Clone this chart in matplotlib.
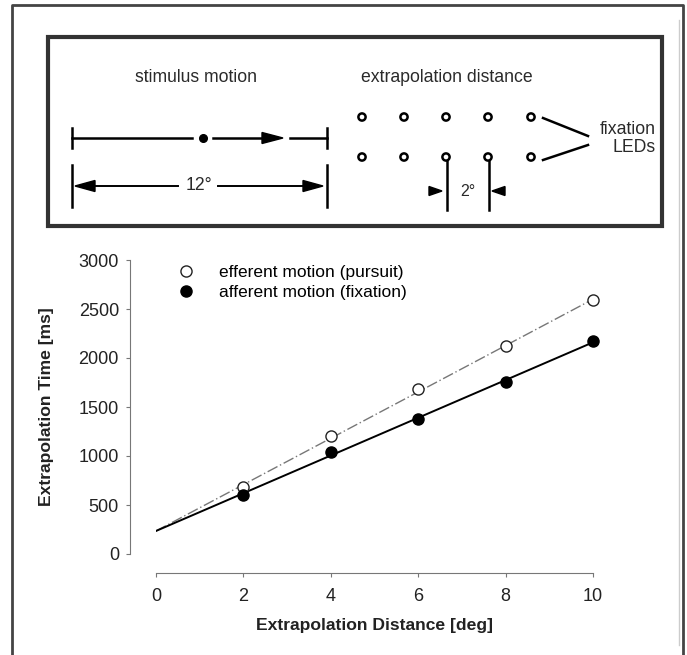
import numpy as np
import matplotlib
matplotlib.use('Agg')
import matplotlib.pyplot as plt
from matplotlib.lines import Line2D
from matplotlib.patches import Rectangle, Polygon, Circle

plt.rcParams['font.family'] = ['Liberation Sans', 'DejaVu Sans']

# data
distance = [2, 4, 6, 8, 10]
pursuit = [680, 1200, 1680, 2120, 2590]
fixation = [605, 1040, 1380, 1760, 2170]
fit_x = [0, 10]
fit_pursuit = [235, 2600]
fit_fixation = [235, 2160]
xticks = [0, 2, 4, 6, 8, 10]
yticks = [0, 500, 1000, 1500, 2000, 2500, 3000]
led_x = [362, 404, 446, 488, 531]
led_y = [117, 157]

W, H = 687, 655
fig = plt.figure(figsize=(W / 100, H / 100), dpi=100)

# overlay axes in pixel coordinates for the sketch on top
ov = fig.add_axes([0, 0, 1, 1])
ov.set_xlim(0, W)
ov.set_ylim(H, 0)
ov.axis('off')

dark = '#2a2a2a'
fs = 12.7
# outer frame
ov.plot([12, 12, 683, 683], [H, 5, 5, H], color='#444444', lw=2)
ov.plot([679, 679], [20, 645], color='#cccccc', lw=1)
# inner box
ov.add_patch(Rectangle((48, 37), 614, 189, fill=False, ec='#333333', lw=3))

ov.text(196, 77, 'stimulus motion', ha='center', va='center', fontsize=fs, color=dark)
ov.text(447, 77, 'extrapolation distance', ha='center', va='center', fontsize=fs, color=dark)

# stimulus motion line
lw_d = 1.8
ov.plot([72, 72], [128, 148], color='k', lw=lw_d)
ov.plot([327, 327], [128, 148], color='k', lw=lw_d)
ov.plot([72, 192], [138, 138], color='k', lw=lw_d)
ov.plot([203], [138], 'o', color='k', ms=5.5)
ov.plot([213, 265], [138, 138], color='k', lw=lw_d)
ov.add_patch(Polygon([[262, 132.5], [283, 138], [262, 143.5]], color='k'))
ov.plot([290, 327], [138, 138], color='k', lw=lw_d)

# 12 deg span
ov.plot([72, 72], [165, 207], color='k', lw=lw_d)
ov.plot([327, 327], [165, 207], color='k', lw=lw_d)
ov.plot([92, 178], [186, 186], color='k', lw=1.4)
ov.add_patch(Polygon([[95, 180.5], [75, 186], [95, 191.5]], color='k'))
ov.plot([218, 305], [186, 186], color='k', lw=1.4)
ov.add_patch(Polygon([[303, 180.5], [323, 186], [303, 191.5]], color='k'))
ov.text(199, 186, '12°', ha='center', va='center', fontsize=fs, color=dark)

# fixation LEDs
for yy in led_y:
    for xx in led_x:
        ov.add_patch(Circle((xx, yy), 3.6, fill=False, ec='k', lw=1.8))
ov.plot([543, 588], [118, 136], color='k', lw=lw_d)
ov.plot([543, 588], [160, 145], color='k', lw=lw_d)
ov.text(656, 129, 'fixation', ha='right', va='center', fontsize=fs, color=dark)
ov.text(656, 148, 'LEDs', ha='right', va='center', fontsize=fs, color=dark)

# 2 deg marker
ov.plot([447, 447], [161, 210], color='k', lw=lw_d)
ov.plot([489, 489], [161, 210], color='k', lw=lw_d)
ov.add_patch(Polygon([[429, 186.5], [442, 191], [429, 195.5]], color='k'))
ov.add_patch(Polygon([[505, 186.5], [492, 191], [505, 195.5]], color='k'))
ov.text(468, 191, '2°', ha='center', va='center', fontsize=11.5, color=dark)

# main plot
ax = fig.add_axes([156 / W, 1 - 554 / H, (593 - 156) / W, (554 - 260) / H])
ax.plot(fit_x, fit_pursuit, color='#777777', lw=1, dashes=(8, 2, 1, 2))
ax.plot(fit_x, fit_fixation, color='k', lw=1.4)
ax.plot(distance, pursuit, 'o', ms=8, mfc='white', mec='#222222', mew=1, clip_on=False)
ax.plot(distance, fixation, 'o', ms=8, mfc='black', mec='black', clip_on=False)

ax.set_xlim(0, 10)
ax.set_ylim(0, 3000)
ax.set_xticks(xticks)
ax.set_yticks(yticks)
for s in ['top', 'right']:
    ax.spines[s].set_visible(False)
ax.spines['left'].set_position(('outward', 18.7))
ax.spines['bottom'].set_position(('outward', 13.7))
for s in ['left', 'bottom']:
    ax.spines[s].set_color('#777777')
ax.tick_params(direction='out', length=3, color='#777777', labelsize=13,
               labelcolor='#222222')
ax.tick_params(axis='x', pad=8)
ax.tick_params(axis='y', pad=5)
ax.set_xlabel('Extrapolation Distance [deg]', fontsize=12.6, fontweight='bold',
              color='#222222', labelpad=9)
ax.set_ylabel('Extrapolation Time [ms]', fontsize=12.6, fontweight='bold',
              color='#222222', labelpad=18)

handles = [Line2D([], [], ls='none', marker='o', ms=8, mfc='white', mec='#222222'),
           Line2D([], [], ls='none', marker='o', ms=8, mfc='black', mec='black')]
ax.legend(handles, ['efferent motion (pursuit)', 'afferent motion (fixation)'],
          loc='upper left', bbox_to_anchor=(0.0, 1.025), frameon=False,
          fontsize=12.5, handletextpad=0.9, labelspacing=0.3, borderaxespad=0.3)

fig.savefig('out.png', dpi=100)
